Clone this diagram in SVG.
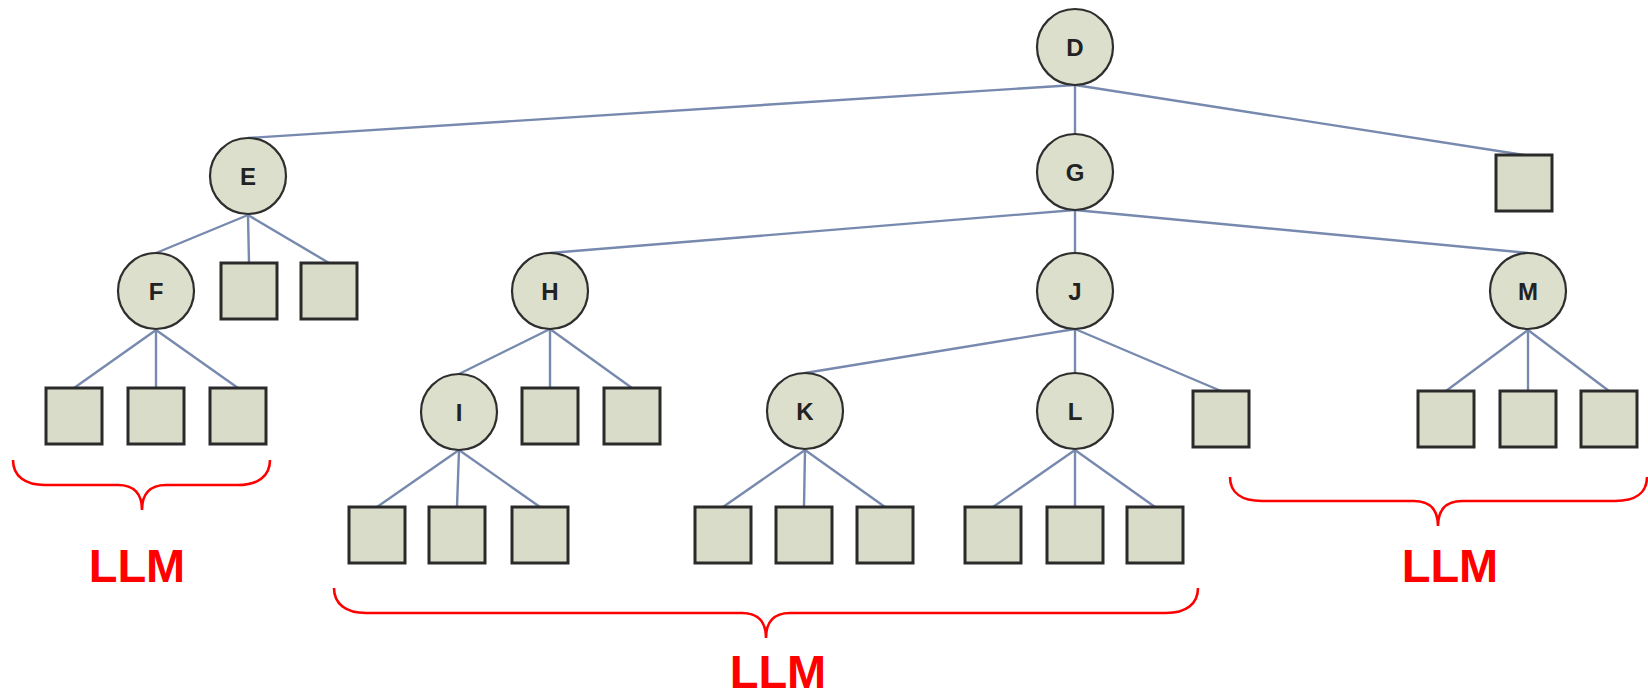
<svg xmlns="http://www.w3.org/2000/svg" width="1648" height="698" viewBox="0 0 1648 698">
  <style>
    .c { fill: #dcdfcc; stroke: #2e2e2e; stroke-width: 2.2; }
    .s { fill: #d9dcc8; stroke: #2a2a2a; stroke-width: 3; }
    .t { font-family: "Liberation Sans", Arial, sans-serif; font-weight: bold; font-size: 24px; fill: #222; text-anchor: middle; }
    .e { stroke: #7789ae; stroke-width: 2.4; fill: none; }
    .b { stroke: #ff0000; stroke-width: 2.6; fill: none; }
    .l { font-family: "Liberation Sans", Arial, sans-serif; font-weight: bold; font-size: 47px; fill: #ff0000; text-anchor: middle; }
  </style>
  <rect width="1648" height="698" fill="#ffffff"/>

  <!-- tree edges -->
  <g id="edges">
    <line class="e" x1="1075" y1="85" x2="248" y2="138"/>
    <line class="e" x1="1075" y1="85" x2="1075" y2="134"/>
    <line class="e" x1="1075" y1="85" x2="1524" y2="155"/>
    <line class="e" x1="248" y1="215" x2="156" y2="253"/>
    <line class="e" x1="248" y1="215" x2="249" y2="263"/>
    <line class="e" x1="248" y1="215" x2="329" y2="263"/>
    <line class="e" x1="1075" y1="210" x2="550" y2="253"/>
    <line class="e" x1="1075" y1="210" x2="1075" y2="253"/>
    <line class="e" x1="1075" y1="210" x2="1528" y2="253"/>
    <line class="e" x1="156" y1="330" x2="74" y2="388"/>
    <line class="e" x1="156" y1="330" x2="156" y2="388"/>
    <line class="e" x1="156" y1="330" x2="238" y2="388"/>
    <line class="e" x1="550" y1="329" x2="459" y2="374"/>
    <line class="e" x1="550" y1="329" x2="550" y2="388"/>
    <line class="e" x1="550" y1="329" x2="632" y2="388"/>
    <line class="e" x1="1075" y1="329" x2="805" y2="373"/>
    <line class="e" x1="1075" y1="329" x2="1075" y2="373"/>
    <line class="e" x1="1075" y1="329" x2="1221" y2="391"/>
    <line class="e" x1="1528" y1="330" x2="1446" y2="391"/>
    <line class="e" x1="1528" y1="330" x2="1528" y2="391"/>
    <line class="e" x1="1528" y1="330" x2="1609" y2="391"/>
    <line class="e" x1="459" y1="450" x2="377" y2="507"/>
    <line class="e" x1="459" y1="450" x2="457" y2="507"/>
    <line class="e" x1="459" y1="450" x2="540" y2="507"/>
    <line class="e" x1="805" y1="450" x2="723" y2="507"/>
    <line class="e" x1="805" y1="450" x2="804" y2="507"/>
    <line class="e" x1="805" y1="450" x2="885" y2="507"/>
    <line class="e" x1="1075" y1="450" x2="993" y2="507"/>
    <line class="e" x1="1075" y1="450" x2="1075" y2="507"/>
    <line class="e" x1="1075" y1="450" x2="1155" y2="507"/>
  </g>

  <!-- circle nodes -->
  <g id="node-D"><circle class="c" cx="1075" cy="47" r="38"/><text class="t" x="1075" y="56">D</text></g>
  <g id="node-E"><circle class="c" cx="248" cy="176" r="38"/><text class="t" x="248" y="185">E</text></g>
  <g id="node-G"><circle class="c" cx="1075" cy="172" r="38"/><text class="t" x="1075" y="181">G</text></g>
  <g id="node-F"><circle class="c" cx="156" cy="291" r="38"/><text class="t" x="156" y="300">F</text></g>
  <g id="node-H"><circle class="c" cx="550" cy="291" r="38"/><text class="t" x="550" y="300">H</text></g>
  <g id="node-J"><circle class="c" cx="1075" cy="291" r="38"/><text class="t" x="1075" y="300">J</text></g>
  <g id="node-M"><circle class="c" cx="1528" cy="291" r="38"/><text class="t" x="1528" y="300">M</text></g>
  <g id="node-I"><circle class="c" cx="459" cy="412" r="38"/><text class="t" x="459" y="421">I</text></g>
  <g id="node-K"><circle class="c" cx="805" cy="411" r="38"/><text class="t" x="805" y="420">K</text></g>
  <g id="node-L"><circle class="c" cx="1075" cy="411" r="38"/><text class="t" x="1075" y="420">L</text></g>

  <!-- leaf nodes -->
  <g id="leaf-D1"><rect class="s" x="1496" y="155" width="56" height="56"/></g>
  <g id="leaf-E1"><rect class="s" x="221" y="263" width="56" height="56"/></g>
  <g id="leaf-E2"><rect class="s" x="301" y="263" width="56" height="56"/></g>
  <g id="leaf-F1"><rect class="s" x="46" y="388" width="56" height="56"/></g>
  <g id="leaf-F2"><rect class="s" x="128" y="388" width="56" height="56"/></g>
  <g id="leaf-F3"><rect class="s" x="210" y="388" width="56" height="56"/></g>
  <g id="leaf-H1"><rect class="s" x="522" y="388" width="56" height="56"/></g>
  <g id="leaf-H2"><rect class="s" x="604" y="388" width="56" height="56"/></g>
  <g id="leaf-J1"><rect class="s" x="1193" y="391" width="56" height="56"/></g>
  <g id="leaf-M1"><rect class="s" x="1418" y="391" width="56" height="56"/></g>
  <g id="leaf-M2"><rect class="s" x="1500" y="391" width="56" height="56"/></g>
  <g id="leaf-M3"><rect class="s" x="1581" y="391" width="56" height="56"/></g>
  <g id="leaf-I1"><rect class="s" x="349" y="507" width="56" height="56"/></g>
  <g id="leaf-I2"><rect class="s" x="429" y="507" width="56" height="56"/></g>
  <g id="leaf-I3"><rect class="s" x="512" y="507" width="56" height="56"/></g>
  <g id="leaf-K1"><rect class="s" x="695" y="507" width="56" height="56"/></g>
  <g id="leaf-K2"><rect class="s" x="776" y="507" width="56" height="56"/></g>
  <g id="leaf-K3"><rect class="s" x="857" y="507" width="56" height="56"/></g>
  <g id="leaf-L1"><rect class="s" x="965" y="507" width="56" height="56"/></g>
  <g id="leaf-L2"><rect class="s" x="1047" y="507" width="56" height="56"/></g>
  <g id="leaf-L3"><rect class="s" x="1127" y="507" width="56" height="56"/></g>

  <!-- braces and labels -->
  <g id="group-left">
    <path class="b" d="M13,460 C13,476 25,485 45,485 L118,485 C134,485 142,494 142,510 C142,494 150,485 166,485 L238,485 C258,485 270,476 270,460"/>
    <text class="l" x="137" y="582">LLM</text>
  </g>
  <g id="group-middle">
    <path class="b" d="M334,588 C334,604 346,613 366,613 L742,613 C758,613 766,622 766,638 C766,622 774,613 790,613 L1166,613 C1186,613 1198,604 1198,588"/>
    <text class="l" x="778" y="688">LLM</text>
  </g>
  <g id="group-right">
    <path class="b" d="M1230,477 C1230,493 1242,501 1262,501 L1414,501 C1430,501 1438,510 1438,526 C1438,510 1446,501 1462,501 L1615,501 C1635,501 1647,493 1647,477"/>
    <text class="l" x="1450" y="582">LLM</text>
  </g>
</svg>
